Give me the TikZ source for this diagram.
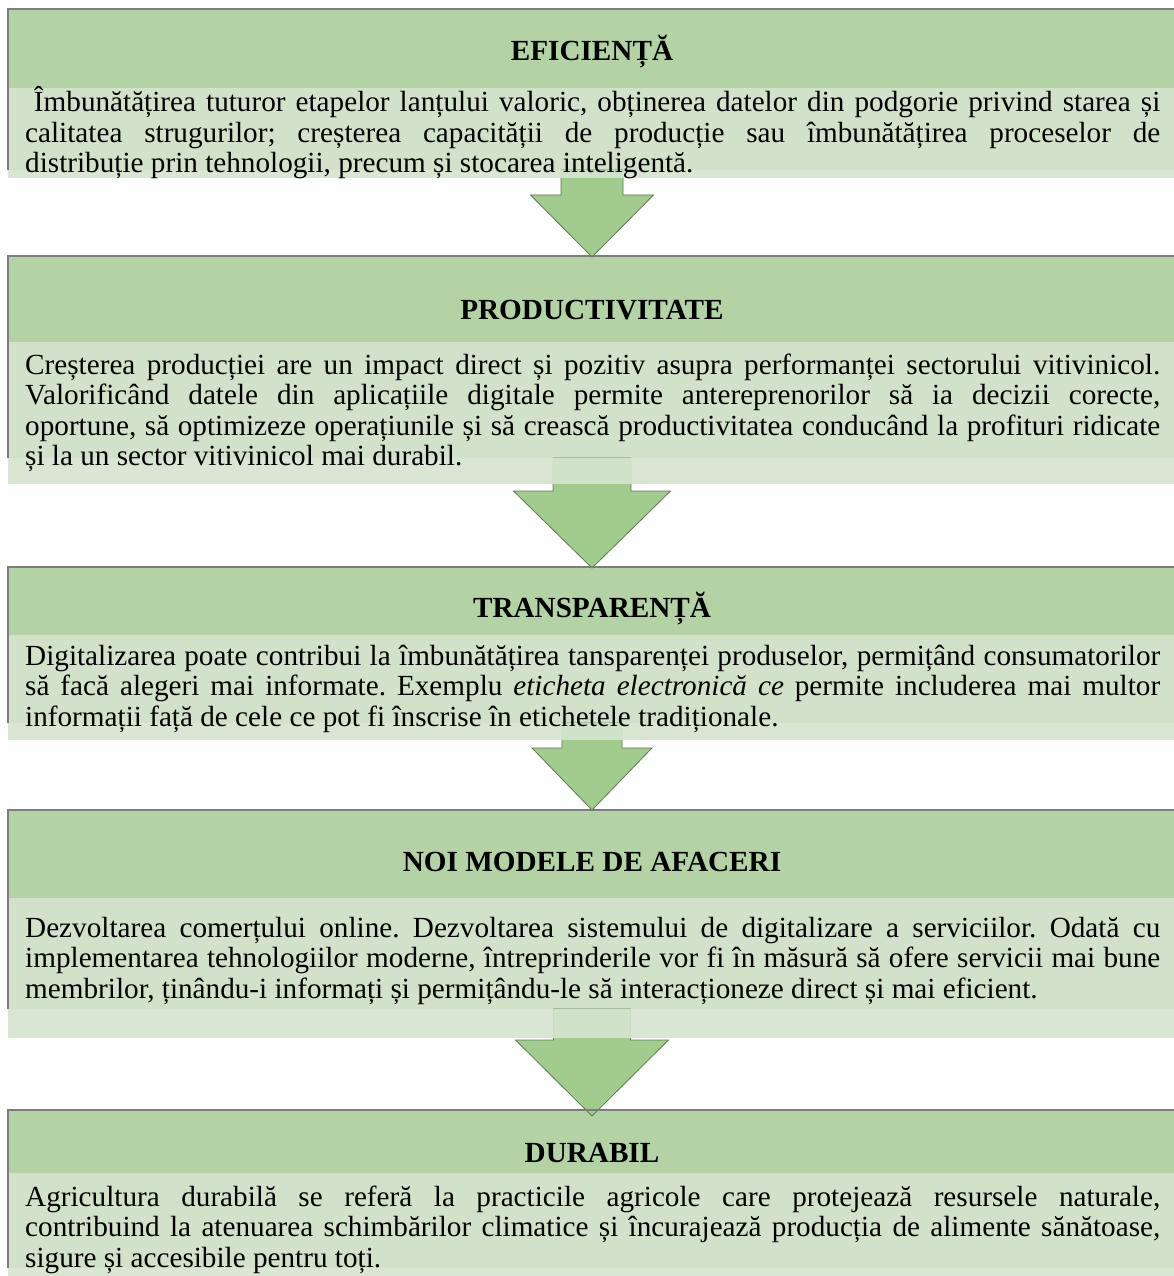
\documentclass[tikz,border=0pt]{standalone}
\usepackage{fontspec}
\setmainfont{Liberation Serif}
\usetikzlibrary{positioning}

\definecolor{headgreen}{RGB}{179,211,164}
\definecolor{bodygreen}{RGB}{210,225,201}
\definecolor{shadegreen}{RGB}{214,228,208}
\definecolor{arrowgreen}{RGB}{161,204,141}
\definecolor{arrowline}{RGB}{95,120,85}
\definecolor{framegray}{RGB}{125,125,125}

\newcommand{\boxfont}{\fontsize{29.2}{30.5}\selectfont}
\frenchspacing

\begin{document}
\begin{tikzpicture}[x=1pt, y=-1pt,
  head/.style={anchor=north west, fill=headgreen, inner sep=0pt, outer sep=0pt, minimum width=1168pt},
  body/.style={anchor=north west, fill=bodygreen, inner sep=0pt, outer sep=0pt, minimum width=1168pt},
  shade/.style={anchor=north west, fill=shadegreen, fill opacity=0.92, inner sep=0pt, outer sep=0pt, minimum width=1168pt},
  frame/.style={draw=framegray, line width=1.2pt},
  downarrow/.style={fill=arrowgreen, draw=arrowline, line width=0.8pt, line join=miter},
  title/.style={anchor=base, font=\boxfont\bfseries, inner sep=0pt},
  txt/.style={anchor=base west, font=\boxfont, text width=1135pt, align=justify, inner sep=0pt}]

\useasboundingbox (0,0) rectangle (1173,1276);

% Boxes
\node[head, minimum height=79pt] (h1) at (8,9) {};
\node[body, minimum height=82pt] (b1) at (h1.south west) {};
\node[head, minimum height=86pt] (h2) at (8,256) {};
\node[body, minimum height=116pt] (b2) at (h2.south west) {};
\node[head, minimum height=68pt] (h3) at (8,567) {};
\node[body, minimum height=88pt] (b3) at (h3.south west) {};
\node[head, minimum height=88pt] (h4) at (8,810) {};
\node[body, minimum height=111pt] (b4) at (h4.south west) {};
\node[head, minimum height=63pt] (h5) at (8,1110) {};
\node[body, minimum height=95pt] (b5) at (h5.south west) {};

% Arrows
\draw[downarrow] (b1.south) ++(-31,0) -- ++(0,25) -- ++(-30.5,0) -- ([yshift=-1pt]h2.north)
  -- ++(61.5,-62) -- ++(-30.5,0) -- ++(0,-25) -- cycle;
\draw[downarrow] (b2.south) ++(-39,0) -- ++(0,33) -- ++(-39.5,0) -- ([yshift=-1pt]h3.north)
  -- ++(78.5,-77) -- ++(-39.5,0) -- ++(0,-33) -- cycle;
\draw[downarrow] (b3.south) ++(-30,0) -- ++(0,25) -- ++(-30,0) -- (h4.north)
  -- ++(60,-62) -- ++(-30,0) -- ++(0,-25) -- cycle;
\draw[downarrow] (b4.south) ++(-38.5,0) -- ++(0,31) -- ++(-38,0) -- ([yshift=-6pt]h5.north)
  -- ++(76.5,-76) -- ++(-38,0) -- ++(0,-31) -- cycle;

% Shadow strips
\node[shade, minimum height=8pt] (s1) at (b1.south west) {};
\node[shade, minimum height=26pt] (s2) at (b2.south west) {};
\node[shade, minimum height=17pt] (s3) at (b3.south west) {};
\node[shade, minimum height=29pt] (s4) at (b4.south west) {};
\node[shade, minimum height=8pt] (s5) at (b5.south west) {};

% Frames
\foreach \i in {1,...,5}
  \draw[frame] (b\i.south west) -- (h\i.north west) -- (h\i.north east);

% Titles
\node[title] (t1) at (592,61) {EFICIENȚĂ};
\node[title] (t2) at (592,319) {PRODUCTIVITATE};
\node[title] (t3) at (592,617) {TRANSPARENȚĂ};
\node[title] (t4) at (592,871) {NOI MODELE DE AFACERI};
\node[title] (t5) at (592,1162) {DURABIL};

% Texts
\node[txt] (x1) at (25,112) {\hspace*{0.3em}Îmbunătățirea tuturor etapelor lanțului valoric, obținerea datelor din podgorie privind starea și\linebreak calitatea strugurilor; creșterea capacității de producție sau îmbunătățirea proceselor de\linebreak distribuție prin tehnologii, precum și stocarea inteligentă.};
\node[txt] (x2) at (25,374) {Creșterea producției are un impact direct și pozitiv asupra performanței sectorului vitivinicol.\linebreak Valorificând datele din aplicațiile digitale permite antereprenorilor să ia decizii corecte,\linebreak oportune, să optimizeze operațiunile și să crească productivitatea conducând la profituri ridicate\linebreak și la un sector vitivinicol mai durabil.};
\node[txt] (x3) at (25,665) {Digitalizarea poate contribui la îmbunătățirea tansparenței produselor, permițând consumatorilor\linebreak să facă alegeri mai informate. Exemplu \textit{eticheta electronică ce} permite includerea mai multor\linebreak informații față de cele ce pot fi înscrise în etichetele tradiționale.};
\node[txt] (x4) at (25,937) {Dezvoltarea comerțului online. Dezvoltarea sistemului de digitalizare a serviciilor. Odată cu\linebreak implementarea tehnologiilor moderne, întreprinderile vor fi în măsură să ofere servicii mai bune\linebreak membrilor, ținându-i informați și permițându-le să interacționeze direct și mai eficient.};
\node[txt] (x5) at (25,1206) {Agricultura durabilă se referă la practicile agricole care protejează resursele naturale,\linebreak contribuind la atenuarea schimbărilor climatice și încurajează producția de alimente sănătoase,\linebreak sigure și accesibile pentru toți.};

\end{tikzpicture}
\end{document}
